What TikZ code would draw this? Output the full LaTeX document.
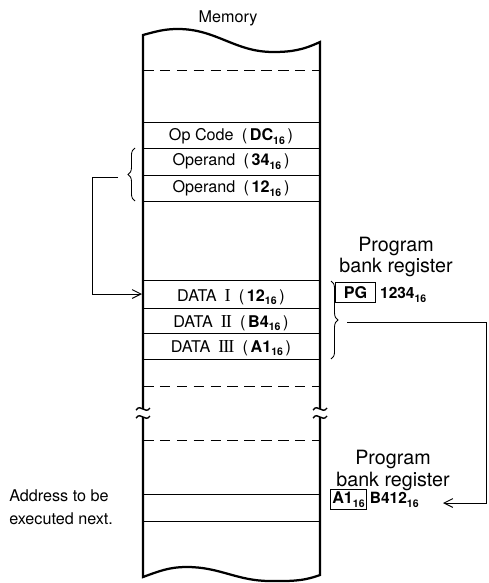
\documentclass[tikz,border=0pt]{standalone}
\usepackage{fontspec}
\setmainfont{TeX Gyre Heros}
\newfontfamily\romfont{Liberation Serif}
\usetikzlibrary{arrows.meta, positioning, decorations.pathreplacing, calc}

\newcommand{\hexsub}[1]{\raisebox{-0.45ex}{\fontsize{7.5}{8}\selectfont\bfseries #1}}
\newcommand{\hexval}[1]{\enspace(\,\textbf{#1}\hexsub{16}\,)}
\newcommand{\romnum}[1]{\enspace{\romfont\fontsize{13}{14}\selectfont #1}}

\begin{document}
\begin{tikzpicture}[x=0.025cm, y=-0.025cm,
    cell/.style={font=\fontsize{11.5}{13}\selectfont, inner sep=0pt, anchor=base},
    lbl/.style={font=\fontsize{11.5}{16}\selectfont, align=left, inner sep=0pt},
    ttl/.style={font=\fontsize{14}{15.6}\selectfont, align=center, inner sep=0pt},
    wall/.style={line width=1.6pt},
    rowline/.style={line width=0.7pt},
    gapline/.style={line width=0.7pt, dash pattern=on 7.5pt off 4.5pt},
    brc/.style={decorate, decoration={brace, amplitude=5pt}, line width=0.6pt},
    link/.style={line width=0.7pt},
    arr/.style={-{Straight Barb[length=2.2mm, width=2.2mm]}, line width=0.7pt},
    regbox/.style={draw, line width=0.7pt, inner sep=1.2pt, font=\bfseries\fontsize{11.5}{13}\selectfont},
    regval/.style={inner sep=0pt, font=\bfseries\fontsize{11}{13}\selectfont}]
  \useasboundingbox (0,0) rectangle (488,583);
  % memory column
  \node[cell] (mem) at (228,23) {Memory};
  \draw[wall] (143,409) -- (143,35) to[out=15,in=180] (178,29) to[out=0,in=180] (273,52)
    to[out=0,in=205] (320,42) -- (320,409);
  \draw[wall] (143,417) -- (143,577) to[out=20,in=180] (187,567) to[out=0,in=180] (270,581)
    to[out=0,in=200] (320,575) -- (320,417);
  % break marks
  \foreach \x in {143,320} {
    \draw[line width=1pt] (\x-7,410) .. controls (\x-2,403) and (\x+2,415) .. (\x+7,408);
    \draw[line width=1pt] (\x-7,418) .. controls (\x-2,411) and (\x+2,423) .. (\x+7,416);
  }
  % cells
  \foreach \y in {70,386,440} \draw[gapline] (143,\y) -- (320,\y);
  \foreach \y in {122,148,175,201,280,308,333,359,494,521} \draw[rowline] (143,\y) -- (320,\y);
  \node[cell] (opc) at (231,141) {Op Code\hexval{DC}};
  \node[cell] (opd1) at (231,166) {Operand\hexval{34}};
  \node[cell] (opd2) at (231,193) {Operand\hexval{12}};
  \node[cell] (dat1) at (231,301) {DATA\romnum{I}\hexval{12}};
  \node[cell] (dat2) at (231,327) {DATA\romnum{I\kern-0.06em I}\hexval{B4}};
  \node[cell] (dat3) at (231,352) {DATA\romnum{I\kern-0.06em I\kern-0.06em I}\hexval{A1}};
  \node[lbl, anchor=west] (addr) at (9,507) {Address to be\\executed next.};
  % program bank register
  \node[ttl] (pgt1) at (396,257) {Program\\bank register};
  \node[regbox, minimum width=28pt, minimum height=14.5pt] (pgbox) at (355.5,292.5) {PG};
  \node[regval, base right=3pt of pgbox] (pgval) {1234\hexsub{16}};
  \node[ttl] (pgt2) at (393,470) {Program\\bank register};
  \node[regbox] (a1box) at (348.5,499.5) {A1\hexsub{16}};
  \node[regval, base right=2pt of a1box] (a1val) {B412\hexsub{16}};
  % braces
  \draw[brc] (135,201) -- coordinate[pos=0.5] (opmid) (135,148);
  \draw[brc] (331,281) -- coordinate[pos=0.5] (datmid) (331,359);
  \coordinate (opbr) at (118,177);
  \coordinate (dat1in) at (142,294);
  \coordinate (datbr) at (347,322);
  \coordinate (nextin) at (443,503);
  % connectors
  \draw[arr] (opbr) -- (92,177) |- (dat1in);
  \draw[arr] (datbr) -- (486,322) |- (nextin);
\end{tikzpicture}
\end{document}
